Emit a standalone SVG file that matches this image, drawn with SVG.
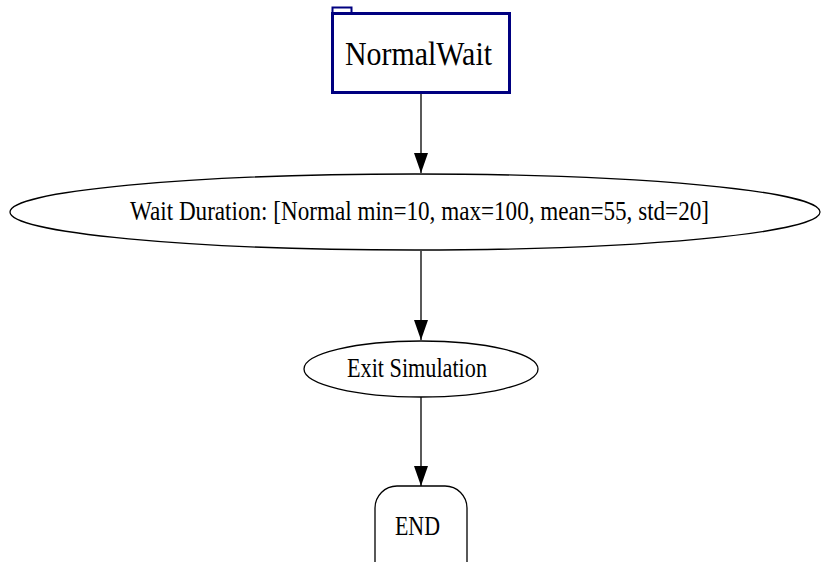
<svg xmlns="http://www.w3.org/2000/svg" width="821" height="562" viewBox="0 0 821 562">
<defs>
<style>
.lbl{font-family:"Liberation Serif","Times New Roman",serif;fill:#000;text-anchor:middle}
.shape{fill:#fff;stroke:#000;stroke-width:1.3}
.edge{stroke:#000;stroke-width:1.3;fill:none}
</style>
<marker id="arr" viewBox="0 0 20 14" refX="20" refY="7" markerWidth="20" markerHeight="14" markerUnits="userSpaceOnUse" orient="auto">
<path d="M0,0 L20,7 L0,14 z" fill="#000"/>
</marker>
</defs>
<rect width="821" height="562" fill="#fff"/>
<g id="edges">
<line class="edge" x1="421" y1="94" x2="421" y2="173" marker-end="url(#arr)"/>
<line class="edge" x1="421" y1="251" x2="421" y2="340" marker-end="url(#arr)"/>
<line class="edge" x1="421" y1="397" x2="421" y2="486" marker-end="url(#arr)"/>
</g>
<g id="NormalWait">
<rect x="332.5" y="7.5" width="19" height="6" fill="#fff" stroke="#000080" stroke-width="2"/>
<rect x="332.5" y="13.5" width="177" height="79" fill="#fff" stroke="#000080" stroke-width="3"/>
<text class="lbl" x="418.5" y="65" font-size="34" textLength="147" lengthAdjust="spacingAndGlyphs">NormalWait</text>
</g>
<g id="WaitDuration">
<ellipse class="shape" cx="415" cy="212" rx="405" ry="38"/>
<text class="lbl" x="419.5" y="220" font-size="27" textLength="579" lengthAdjust="spacingAndGlyphs">Wait Duration: [Normal min=10, max=100, mean=55, std=20]</text>
</g>
<g id="ExitSimulation">
<ellipse class="shape" cx="421" cy="369" rx="117" ry="28"/>
<text class="lbl" x="417" y="377" font-size="27" textLength="140" lengthAdjust="spacingAndGlyphs">Exit Simulation</text>
</g>
<g id="END">
<rect class="shape" x="375" y="486" width="92" height="100" rx="22" ry="22"/>
<text class="lbl" x="417.5" y="535" font-size="27" textLength="45" lengthAdjust="spacingAndGlyphs">END</text>
</g>
</svg>
